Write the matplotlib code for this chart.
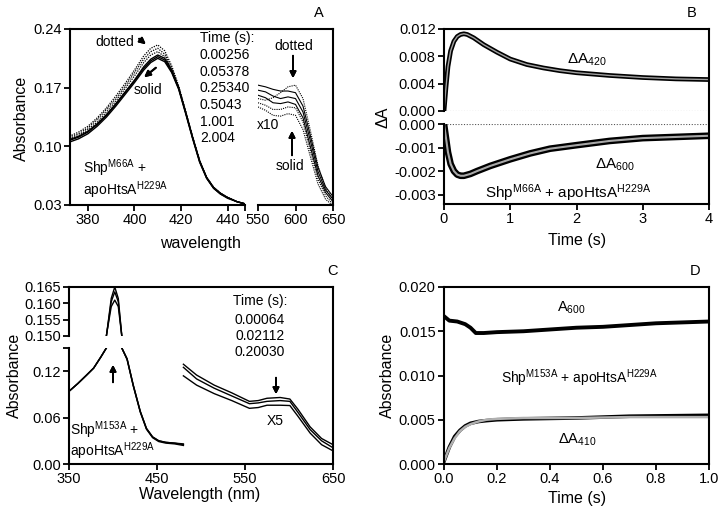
import matplotlib.pyplot as plt
from matplotlib.lines import Line2D

plt.rcParams['font.family'] = ['Liberation Sans', 'DejaVu Sans']
plt.rcParams['mathtext.fontset'] = 'custom'
plt.rcParams['mathtext.rm'] = 'Liberation Sans'
plt.rcParams['mathtext.it'] = 'Liberation Sans:italic'
plt.rcParams['mathtext.bf'] = 'Liberation Sans:bold'

# ---- panel A: spectra (left 372-448 nm, right 550-650 nm x10) ----
wl_a = [372, 376, 380, 384, 388, 392, 396, 400, 404, 407, 410, 413, 416, 419,
        422, 425, 428, 431, 434, 437, 440, 444, 448]
a_solid = [
    [0.108, 0.112, 0.118, 0.127, 0.138, 0.151, 0.165, 0.179, 0.195, 0.204, 0.209, 0.205,
     0.191, 0.170, 0.141, 0.111, 0.083, 0.063, 0.051, 0.044, 0.039, 0.034, 0.031],
    [0.107, 0.111, 0.117, 0.126, 0.137, 0.150, 0.164, 0.178, 0.193, 0.202, 0.207, 0.203,
     0.189, 0.169, 0.140, 0.110, 0.082, 0.062, 0.050, 0.043, 0.039, 0.034, 0.031],
    [0.105, 0.109, 0.115, 0.124, 0.135, 0.148, 0.162, 0.176, 0.191, 0.200, 0.205, 0.201,
     0.188, 0.168, 0.139, 0.109, 0.081, 0.062, 0.050, 0.043, 0.038, 0.034, 0.031],
]
a_dotted = [
    [0.112, 0.117, 0.124, 0.134, 0.146, 0.160, 0.175, 0.191, 0.208, 0.217, 0.221, 0.214,
     0.196, 0.172, 0.142, 0.111, 0.083, 0.063, 0.051, 0.044, 0.039, 0.034, 0.031],
    [0.111, 0.115, 0.122, 0.132, 0.144, 0.157, 0.172, 0.188, 0.204, 0.213, 0.217, 0.210,
     0.194, 0.171, 0.141, 0.111, 0.083, 0.063, 0.051, 0.044, 0.039, 0.034, 0.031],
    [0.109, 0.113, 0.120, 0.129, 0.141, 0.154, 0.169, 0.184, 0.200, 0.209, 0.213, 0.207,
     0.192, 0.170, 0.141, 0.110, 0.082, 0.063, 0.051, 0.044, 0.039, 0.034, 0.031],
]
wl_a2 = [550, 560, 570, 580, 590, 600, 610, 620, 630, 640, 650]
a2_solid = [
    [0.173, 0.171, 0.168, 0.166, 0.166, 0.164, 0.148, 0.112, 0.075, 0.052, 0.040],
    [0.167, 0.165, 0.160, 0.157, 0.159, 0.157, 0.141, 0.106, 0.070, 0.048, 0.037],
    [0.161, 0.158, 0.152, 0.151, 0.153, 0.150, 0.134, 0.099, 0.065, 0.045, 0.034],
]
a2_dotted = [
    [0.157, 0.155, 0.158, 0.164, 0.171, 0.173, 0.157, 0.118, 0.077, 0.050, 0.036],
    [0.152, 0.149, 0.144, 0.144, 0.147, 0.146, 0.129, 0.094, 0.061, 0.041, 0.031],
    [0.147, 0.143, 0.137, 0.136, 0.139, 0.137, 0.120, 0.087, 0.055, 0.037, 0.029],
]
times_a = ['0.00256', '0.05378', '0.25340', '0.5043', '1.001', '2.004']

# ---- panel B: kinetics ----
t_420 = [0, 0.03, 0.06, 0.1, 0.15, 0.2, 0.25, 0.3, 0.35, 0.45, 0.6, 0.8, 1.0, 1.25,
         1.5, 1.75, 2.0, 2.5, 3.0, 3.5, 4.0]
dA_420 = [0, 0.0035, 0.0065, 0.0088, 0.0102, 0.0109, 0.0112, 0.0113, 0.0112, 0.0107,
          0.0097, 0.0086, 0.0076, 0.0068, 0.0063, 0.0059, 0.0056, 0.0052, 0.0049,
          0.0047, 0.0046]
t_600 = [0, 0.03, 0.06, 0.1, 0.15, 0.2, 0.25, 0.3, 0.4, 0.5, 0.7, 1.0, 1.3, 1.6, 2.0,
         2.5, 3.0, 3.5, 4.0]
dA_600 = [0, -0.0006, -0.0012, -0.0017, -0.0020, -0.00215, -0.0022, -0.0022, -0.00212,
          -0.0020, -0.00178, -0.0015, -0.00125, -0.00105, -0.0009, -0.00072, -0.0006,
          -0.00055, -0.0005]

# ---- panel C: spectra ----
wl_c = [350, 360, 370, 378, 386, 393, 398, 402, 406, 410, 416, 423, 431, 438, 445,
        452, 460, 470, 480]
c_left = [
    [0.094, 0.104, 0.115, 0.124, 0.138, 0.151, 0.1615, 0.165, 0.1615, 0.150, 0.136,
     0.102, 0.068, 0.046, 0.035, 0.030, 0.028, 0.027, 0.026],
    [0.094, 0.104, 0.115, 0.124, 0.138, 0.151, 0.1605, 0.1635, 0.1605, 0.150, 0.136,
     0.102, 0.068, 0.046, 0.035, 0.030, 0.028, 0.027, 0.025],
    [0.094, 0.104, 0.115, 0.124, 0.138, 0.151, 0.159, 0.161, 0.159, 0.150, 0.135,
     0.101, 0.067, 0.045, 0.034, 0.029, 0.027, 0.026, 0.024],
]
wl_c2 = [480, 495, 515, 535, 555, 565, 575, 590, 601, 610, 624, 637, 650]
c_right = [
    [0.129, 0.115, 0.102, 0.092, 0.081, 0.082, 0.085, 0.086, 0.084, 0.071, 0.048, 0.033, 0.025],
    [0.125, 0.110, 0.098, 0.088, 0.078, 0.079, 0.081, 0.082, 0.081, 0.067, 0.0445, 0.030, 0.021],
    [0.114, 0.102, 0.091, 0.082, 0.072, 0.073, 0.076, 0.076, 0.0756, 0.062, 0.040, 0.025, 0.017],
]
times_c = ['0.00064', '0.02112', '0.20030']

# ---- panel D: kinetics ----
t_a600 = [0, 0.02, 0.05, 0.08, 0.1, 0.12, 0.15, 0.2, 0.3, 0.4, 0.5, 0.6, 0.7, 0.8, 0.9, 1.0]
a600 = [0.0167, 0.0162, 0.0161, 0.0158, 0.0154, 0.0148, 0.0148, 0.0149, 0.0150, 0.0152,
        0.0154, 0.0155, 0.0157, 0.0159, 0.0160, 0.0161]
t_410 = [0, 0.02, 0.04, 0.06, 0.08, 0.1, 0.13, 0.16, 0.2, 0.3, 0.5, 0.7, 1.0]
dA_410 = [0.0003, 0.0019, 0.0031, 0.0038, 0.0043, 0.0046, 0.0048, 0.0049, 0.0050, 0.0051,
          0.0052, 0.0054, 0.0055]
fit_410 = [0.0003, 0.0018, 0.0029, 0.0037, 0.0042, 0.0045, 0.0048, 0.0050, 0.0051, 0.0052,
           0.0052, 0.0053, 0.0053]

W, H = 724, 515
fig = plt.figure(figsize=(W / 100, H / 100), dpi=100)


def box(x0, y0, x1, y1):
    # pixel box, top-left origin -> figure fraction rect
    return [x0 / W, 1 - y1 / H, (x1 - x0) / W, (y1 - y0) / H]


def style(ax, spines):
    for s in ['left', 'right', 'top', 'bottom']:
        ax.spines[s].set_visible(s in spines)
        ax.spines[s].set_linewidth(1.5)
    ax.tick_params(direction='out', length=4, width=1.3, labelsize=10.5, pad=2)
    ax.tick_params(top=False, right=False)
    ax.patch.set_alpha(0)


def vline(x, y0, y1):
    fig.add_artist(Line2D([x / W, x / W], [1 - y0 / H, 1 - y1 / H], lw=1.5, color='k',
                          transform=fig.transFigure))


def hline(x0, x1, y):
    fig.add_artist(Line2D([x0 / W, x1 / W], [1 - y / H, 1 - y / H], lw=1.5, color='k',
                          transform=fig.transFigure))


def txt(x, y, s, size=10, **kw):
    fig.text(x / W, 1 - y / H, s, fontsize=size, va='center', **kw)


def arrow(x0, y0, x1, y1):
    fig.add_artist(plt.annotate('', xy=(x1, H - y1), xytext=(x0, H - y0),
                                xycoords='figure pixels', textcoords='figure pixels',
                                arrowprops=dict(arrowstyle='-|>', color='k', lw=1.4,
                                                mutation_scale=9)))


# ===== A =====
axA1 = fig.add_axes(box(70, 29, 245, 205))
axA2 = fig.add_axes(box(258, 29, 333, 205))
style(axA1, ['left', 'bottom'])
style(axA2, ['right', 'bottom'])
for ys in a_solid:
    axA1.plot(wl_a, ys, color='k', lw=1.0)
for ys in a_dotted:
    axA1.plot(wl_a, ys, color='k', lw=0.9, ls=(0, (1, 1)))
for ys in a2_solid:
    axA2.plot(wl_a2, ys, color='k', lw=0.8)
for ys in a2_dotted:
    axA2.plot(wl_a2, ys, color='k', lw=0.8, ls=(0, (1, 1)))
axA1.set_xlim(372.3, 447.5)
axA2.set_xlim(550, 650)
for ax in (axA1, axA2):
    ax.set_ylim(0.03, 0.24)
axA1.set_yticks([0.03, 0.10, 0.17, 0.24])
axA1.set_yticklabels(['0.03', '0.10', '0.17', '0.24'])
axA1.set_xticks([380, 400, 420, 440, 447.5])
axA1.set_xticklabels(['380', '400', '420', '440', ''])
axA2.set_xticks([550, 600, 650])
axA2.set_yticks([])
hline(70, 333, 29)
txt(21, 118, 'Absorbance', 11.5, rotation=90, ha='center')
txt(200, 243, 'wavelength', 11.5, ha='center')
txt(319, 13, 'A', 10.5, ha='center')
txt(115, 42, 'dotted', 10, ha='center')
arrow(137, 37, 148, 46)
txt(148, 90, 'solid', 10, ha='center')
arrow(158, 66, 142, 79)
txt(200, 38, 'Time (s):', 10, ha='left')
for i, s in enumerate(times_a):
    txt(200, 55 + i * 16.7, s, 10, ha='left')
txt(294, 46, 'dotted', 10, ha='center')
arrow(293, 53, 293, 81)
txt(257, 125, 'x10', 10, ha='left')
arrow(292, 158, 292, 128)
txt(290, 166, 'solid', 10, ha='center')
txt(83, 168, r'Shp$^{\mathrm{M66A}}$ +', 10, ha='left')
txt(83, 190, r'apoHtsA$^{\mathrm{H229A}}$', 10, ha='left')

# ===== B =====
axB1 = fig.add_axes(box(444, 29, 709, 111))
axB2 = fig.add_axes(box(444, 124, 709, 204))
style(axB1, ['left', 'top'])
style(axB2, ['left', 'bottom'])
axB1.plot(t_420, dA_420, color='k', lw=3.4, solid_joinstyle='round')
axB1.plot(t_420, dA_420, color='#a0a0a0', lw=1.0)
axB2.plot(t_600, dA_600, color='k', lw=4.8, solid_joinstyle='round')
axB2.plot(t_600, dA_600, color='#a8a8a8', lw=1.5)
axB1.axhline(0, color='#555555', lw=0.8, ls=(0, (1, 1.5)))
axB2.axhline(0, color='#555555', lw=0.8, ls=(0, (1, 1.5)))
axB1.set_xlim(0, 4)
axB2.set_xlim(0, 4)
axB1.set_ylim(0, 0.012)
axB2.set_ylim(-0.0034, 0)
axB1.set_xticks([])
axB1.set_yticks([0, 0.004, 0.008, 0.012])
axB1.set_yticklabels(['0.000', '0.004', '0.008', '0.012'])
axB2.set_yticks([0, -0.001, -0.002, -0.003])
axB2.set_yticklabels(['0.000', '-0.001', '-0.002', '-0.003'])
axB2.set_xticks([0, 1, 2, 3, 4])
vline(709, 29, 204)
txt(383, 117, 'ΔA', 11.5, rotation=90, ha='center')
txt(577, 241, 'Time (s)', 11.5, ha='center')
txt(692, 13, 'B', 10.5, ha='center')
txt(567, 60, r'ΔA$_{\mathrm{420}}$', 11, ha='left')
txt(595, 165, r'ΔA$_{\mathrm{600}}$', 11, ha='left')
txt(485, 193, r'Shp$^{\mathrm{M66A}}$ + apoHtsA$^{\mathrm{H229A}}$', 11, ha='left')

# ===== C =====
axC1 = fig.add_axes(box(69, 287, 333, 336))
axC2 = fig.add_axes(box(69, 348, 333, 464))
style(axC1, ['left', 'top'])
style(axC2, ['left', 'bottom'])
for ax in (axC1, axC2):
    for ys in c_left:
        ax.plot(wl_c, ys, color='k', lw=1.0)
    ax.set_xlim(350, 650)
for ys in c_right:
    axC2.plot(wl_c2, ys, color='k', lw=1.0)
axC1.set_ylim(0.150, 0.165)
axC2.set_ylim(0, 0.150)
axC1.set_xticks([])
axC1.set_yticks([0.150, 0.155, 0.160, 0.165])
axC1.set_yticklabels(['0.150', '0.155', '0.160', '0.165'])
axC2.set_yticks([0, 0.06, 0.12, 0.150])
axC2.set_yticklabels(['0.00', '0.06', '0.12', ''])
axC2.set_xticks([350, 450, 550, 650])
vline(333, 287, 464)
txt(14, 375, 'Absorbance', 11.5, rotation=90, ha='center')
txt(200, 495, 'Wavelength (nm)', 11.5, ha='center')
txt(333, 271, 'C', 10.5, ha='center')
txt(260, 301, 'Time (s):', 10, ha='center')
for i, s in enumerate(times_c):
    txt(260, 320 + i * 15.8, s, 10, ha='center')
arrow(113, 385, 113, 362)
arrow(276, 375, 276, 397)
txt(267, 421, 'X5', 10, ha='left')
txt(70, 430, r'Shp$^{\mathrm{M153A}}$ +', 10, ha='left')
txt(70, 451, r'apoHtsA$^{\mathrm{H229A}}$', 10, ha='left')

# ===== D =====
axD = fig.add_axes(box(444, 287, 709, 464))
style(axD, ['left', 'bottom', 'top', 'right'])
axD.plot(t_a600, a600, color='k', lw=2.8, solid_joinstyle='round')
axD.plot(t_410, dA_410, color='k', lw=2.6, solid_joinstyle='round')
axD.plot(t_410, fit_410, color='#b0b0b0', lw=1.8)
axD.set_xlim(0, 1)
axD.set_ylim(0, 0.020)
axD.set_xticks([0, 0.2, 0.4, 0.6, 0.8, 1.0])
axD.set_xticklabels(['0.0', '0.2', '0.4', '0.6', '0.8', '1.0'])
axD.set_yticks([0, 0.005, 0.010, 0.015, 0.020])
axD.set_yticklabels(['0.000', '0.005', '0.010', '0.015', '0.020'])
txt(387, 375, 'Absorbance', 11.5, rotation=90, ha='center')
txt(577, 499, 'Time (s)', 11.5, ha='center')
txt(695, 271, 'D', 10.5, ha='center')
txt(557, 308, r'A$_{\mathrm{600}}$', 10.5, ha='left')
txt(501, 378, r'Shp$^{\mathrm{M153A}}$ + apoHtsA$^{\mathrm{H229A}}$', 10, ha='left')
txt(558, 440, r'ΔA$_{\mathrm{410}}$', 10.5, ha='left')

fig.savefig('out.png', dpi=100)
